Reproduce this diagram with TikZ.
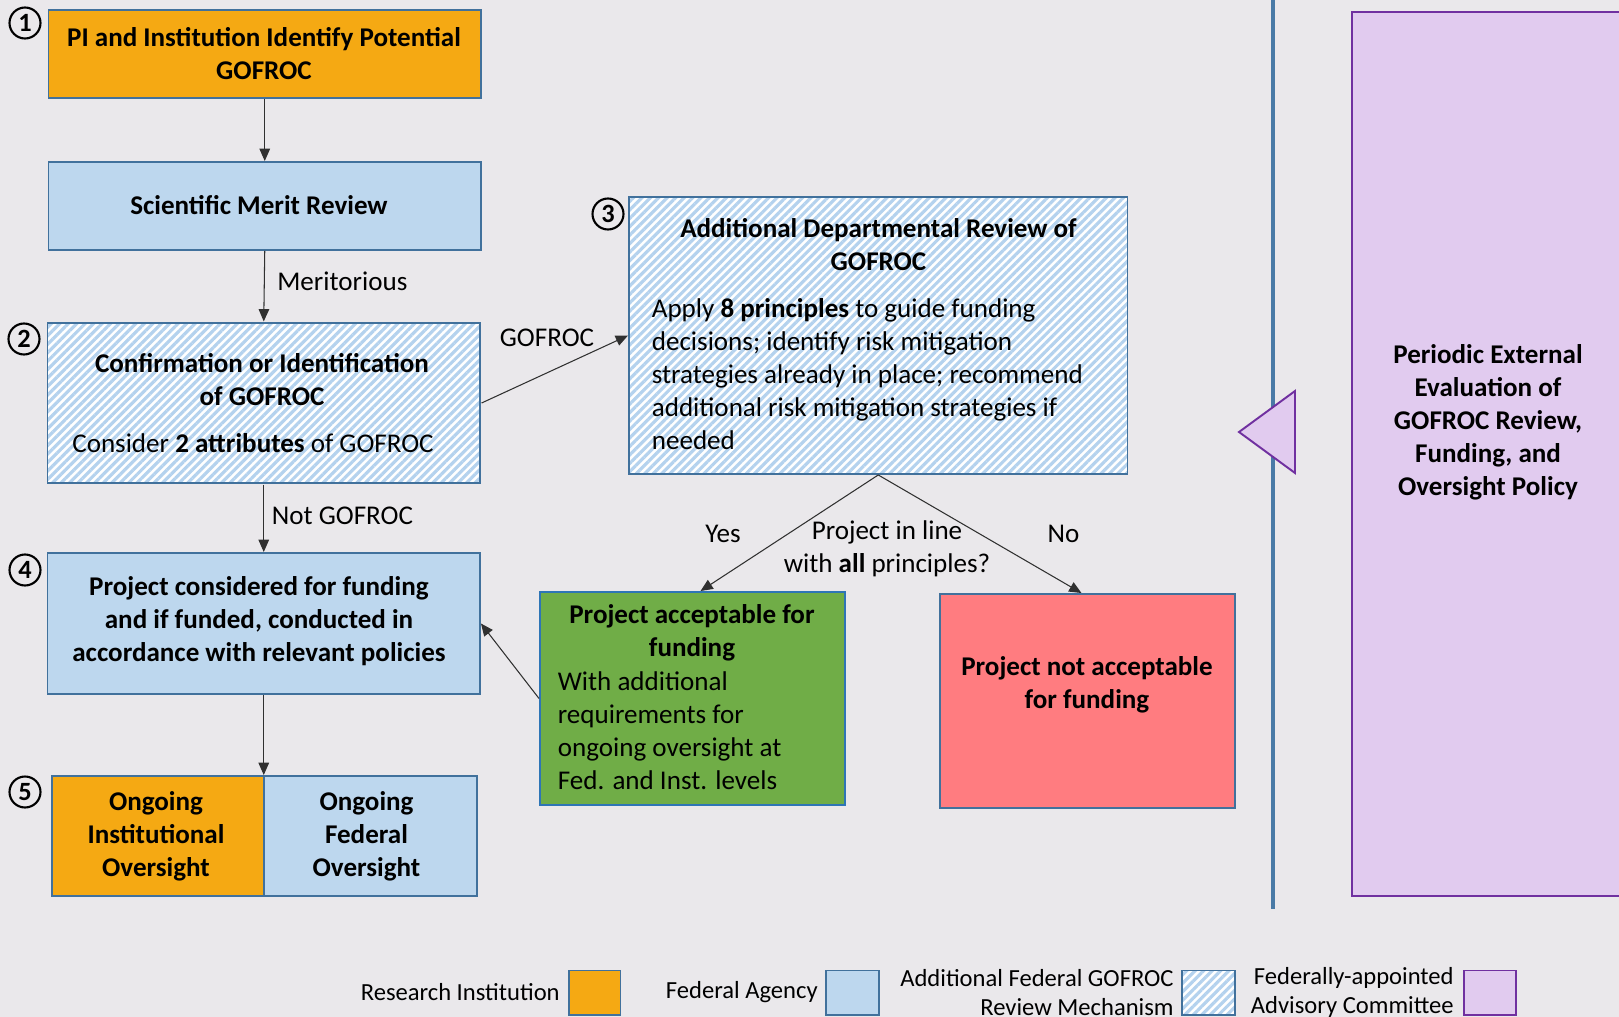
\documentclass[tikz,border=0pt]{standalone}
\usepackage{fontspec}
\setmainfont{Carlito}
\usetikzlibrary{arrows.meta,patterns.meta,fit,calc}
\definecolor{bg}{HTML}{EAE8EB}
\definecolor{orng}{HTML}{F5A913}
\definecolor{lblue}{HTML}{BDD7EE}
\definecolor{bord}{HTML}{41719C}
\definecolor{grn}{HTML}{70AD47}
\definecolor{grnbord}{HTML}{2E75B6}
\definecolor{rd}{HTML}{FF7C80}
\definecolor{purp}{HTML}{E1CBEF}
\definecolor{purpbord}{HTML}{7030A0}
\definecolor{hatchc}{HTML}{B4D2EE}
\definecolor{vline}{HTML}{4A7AA6}
\definecolor{conn}{HTML}{303030}
\begin{document}
\begin{tikzpicture}[x=0.02cm,y=-0.02cm,
  box/.style={draw=bord, line width=1.1pt, inner sep=0pt},
  obox/.style={box, fill=orng},
  bbox/.style={box, fill=lblue},
  hbox/.style={box, preaction={fill=white}, pattern={Lines[angle=45,distance=3.4pt,line width=1.8pt]}, pattern color=hatchc},
  txt/.style={font=\fontsize{15.4}{18.8}\selectfont, inner sep=0pt, align=center},
  btxt/.style={font=\fontsize{15.4}{18.8}\selectfont\bfseries, inner sep=0pt, align=center},
  ltxt/.style={font=\fontsize{15.4}{18.8}\selectfont, inner sep=0pt, align=left},
  legtxt/.style={font=\fontsize{14}{17}\selectfont, inner sep=0pt, align=right, anchor=east},
  arr/.style={-{Triangle[length=7pt,width=6pt]}, line width=0.6pt, draw=conn},
  num/.style={circle, draw=black, line width=1.2pt, minimum size=0.62cm, inner sep=0pt, font=\fontsize{15}{15}\selectfont\bfseries}
]
\useasboundingbox (0,0) rectangle (1619,1017);
\fill[bg] (0,0) rectangle (1619,1017);

% separator and purple box
\draw[vline, line width=1.8pt] (1273,0) -- (1273,909);
\node[box, draw=purpbord, fill=purp, fit={(1352,12.4)(1640,896)}] (pol) {};
\node[btxt] (polt) at (1488,422) {Periodic External\\Evaluation of\\GOFROC Review,\\Funding, and\\Oversight Policy};
\filldraw[fill=purp, draw=purpbord, line width=1.1pt] (1239,432) -- (1295,391) -- (1295,473) -- cycle;

% boxes
\node[obox, fit={(48.5,10.3)(481,98)}] (b1) {};
\node[btxt] (b1t) at (264,53.5) {PI and Institution Identify Potential\\GOFROC};
\node[bbox, fit={(48.5,162)(481,250)}] (smr) {};
\node[btxt] (smrt) at (259,205.5) {Scientific Merit Review};
\node[hbox, fit={(47.5,323)(480,483)}] (b2) {};
\node[btxt] (b2t) at (262,379.4) {Confirmation or Identification\\of GOFROC};
\node[txt] (b2b) at (253,443) {Consider \textbf{2 attributes} of GOFROC};
\node[hbox, fit={(629,197)(1127.5,474)}] (b3) {};
\node[btxt] (b3t) at (878.5,245) {Additional Departmental Review of\\GOFROC};
\node[ltxt, anchor=west] (b3b) at (651.5,373.8) {Apply \textbf{8 principles} to guide funding\\decisions; identify risk mitigation\\strategies already in place; recommend\\additional risk mitigation strategies if\\needed};
\node[bbox, fit={(47.5,553)(480,694)}] (b4) {};
\node[btxt] (b4t) at (259,621) {Project considered for funding\\and if funded, conducted in\\accordance with relevant policies};
\node[obox, fit={(51.6,776)(264,896)}] (b5a) {};
\node[bbox, fit={(264,776)(477,896)}] (b5b) {};
\node[btxt] (b5at) at (156,836) {Ongoing\\Institutional\\Oversight};
\node[btxt] (b5bt) at (366.5,836) {Ongoing\\Federal\\Oversight};
\node[box, draw=grnbord, fill=grn, fit={(540,592)(845,805)}] (gr) {};
\node[btxt] (grt) at (692,632.4) {Project acceptable for\\funding};
\node[ltxt, anchor=west] (grb) at (557.5,730.5) {With additional\\requirements for\\ongoing oversight at\\Fed. and Inst. levels};
\node[bbox, fill=rd, fit={(940,594)(1235,808)}] (rd) {};
\node[btxt] (rdt) at (1087,684.5) {Project not acceptable\\for funding};

% numbers
\node[num] (n1) at (25,23) {1};
\node[num] (n2) at (24,339) {2};
\node[num] (n3) at (608,214) {3};
\node[num] (n4) at (25,570) {4};
\node[num] (n5) at (25,792) {5};

% connectors
\draw[arr] (b1.south) -- (smr.north);
\draw[arr] (smr.south) -- (b2.north);
\draw[arr] (b2.south) -- (b4.north);
\draw[arr] (b4.south) -- (b4.south |- b5a.north);
\draw[arr] (b2.east) -- (b3.west);
\draw[arr] (b3.south) -- ($(gr.north)+(8,0)$);
\draw[arr] (b3.south) -- ($(rd.north)+(-6,0)$);
\draw[arr] (gr.west) -- (b4.east);

% labels
\node[txt, anchor=west] (lm) at (277,281) {Meritorious};
\node[txt, anchor=west] (lng) at (271.5,516) {Not GOFROC};
\node[txt] (lg) at (547,338) {GOFROC};
\node[txt] (ly) at (723,534) {Yes};
\node[txt] (ln) at (1063.5,534) {No};
\node[txt] (lq) at (887,549) {Project in line\\with \textbf{all} principles?};

% legend
\node[obox, fit={(569,970.5)(620.5,1015)}] (sw1) {};
\node[bbox, fit={(826,970.5)(879,1015)}] (sw2) {};
\node[hbox, fit={(1182,970.5)(1235,1015)}] (sw3) {};
\node[box, draw=purpbord, fill=purp, fit={(1464,970.5)(1516,1015)}] (sw4) {};
\node[legtxt] (lt1) at (560,992) {Research Institution};
\node[legtxt] (lt2) at (818,992) {Federal Agency};
\node[legtxt] (lt3) at (1174,978) {Additional Federal GOFROC};
\node[legtxt] (lt3b) at (1174,1007) {Review Mechanism};
\node[legtxt] (lt4) at (1454,978) {Federally-appointed};
\node[legtxt] (lt4b) at (1454,1007) {Advisory Committee};
\end{tikzpicture}
\end{document}
